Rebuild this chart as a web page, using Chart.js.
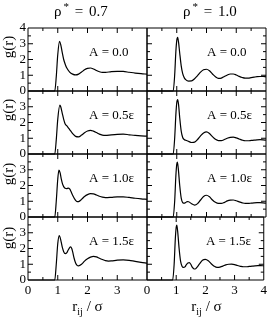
<!DOCTYPE html>
<html><head><meta charset="utf-8">
<script src="https://cdn.jsdelivr.net/npm/chart.js@4"></script>
<style>
html,body{margin:0;padding:0;background:#fff;}
#wrap{position:relative;width:270px;height:317px;overflow:hidden;font-family:"Liberation Serif","DejaVu Serif",serif;color:#000;}
#wrap canvas{position:absolute;left:0;top:0;}
.t{position:absolute;white-space:nowrap;line-height:1;font-size:15px;}
.sup{position:relative;top:-6px;font-size:11px;margin-left:2px;}
.sub{position:relative;top:4px;font-size:10px;}
.yl{position:absolute;left:7.5px;white-space:nowrap;line-height:1;font-size:15px;transform:translate(-50%,-50%) rotate(-90deg);}
</style></head><body><div id="wrap"></div>
<script>
// ---- data ----
const densities = ['0.7', '1.0'];
const aLabels = ['A = 0.0', 'A = 0.5\u03b5', 'A = 1.0\u03b5', 'A = 1.5\u03b5'];
const xTickValues = [0, 1, 2, 3, 4];
const yTickValues = [0, 1, 2, 3, 4];

// rho* = 0.7
const rL1 = [0,0.9,0.95,1.0,1.06,1.1,1.15,1.2,1.25,1.3,1.4,1.5,1.6,1.7,1.8,1.9,2.0,2.1,2.2,2.3,2.4,2.5,2.6,2.8,3.0,3.2,3.4,3.6,3.8,4.0];
const gL1 = [0,0,0.9,2.3,3.15,2.95,2.45,2.0,1.7,1.47,1.2,1.07,1.02,1.07,1.2,1.35,1.44,1.46,1.4,1.3,1.22,1.18,1.18,1.23,1.25,1.24,1.19,1.14,1.1,1.07];
const rL2 = [0,0.9,0.95,1.0,1.07,1.1,1.15,1.2,1.25,1.3,1.35,1.4,1.5,1.6,1.7,1.8,1.9,2.0,2.1,2.2,2.3,2.4,2.5,2.6,2.8,3.0,3.2,3.4,3.6,3.8,4.0];
const gL2 = [0,0,0.9,2.2,3.1,3.0,2.6,2.2,1.9,1.8,1.68,1.55,1.3,1.12,1.09,1.2,1.35,1.46,1.5,1.45,1.36,1.26,1.2,1.18,1.22,1.25,1.26,1.22,1.18,1.15,1.13];
const rL3 = [0,0.9,0.95,1.0,1.04,1.08,1.12,1.16,1.2,1.25,1.3,1.35,1.4,1.45,1.5,1.6,1.65,1.7,1.8,1.9,2.0,2.1,2.2,2.3,2.4,2.5,2.6,2.8,3.0,3.2,3.4,3.6,3.8,4.0];
const gL3 = [0,0,1.0,2.4,2.98,2.8,2.4,2.1,1.93,1.82,1.8,1.83,1.78,1.6,1.38,1.05,0.97,0.98,1.12,1.3,1.42,1.48,1.47,1.4,1.32,1.26,1.23,1.25,1.28,1.28,1.24,1.19,1.15,1.12];
const rL4 = [0,0.9,0.95,1.0,1.05,1.1,1.15,1.2,1.25,1.3,1.35,1.4,1.43,1.47,1.5,1.55,1.6,1.65,1.7,1.8,1.9,2.0,2.1,2.2,2.3,2.4,2.5,2.6,2.7,2.8,3.0,3.2,3.4,3.6,3.8,4.0];
const gL4 = [0,0,1.0,2.3,2.82,2.55,2.1,1.8,1.68,1.72,1.9,2.06,2.1,2.0,1.8,1.38,1.08,0.93,0.9,1.0,1.2,1.35,1.45,1.5,1.47,1.38,1.3,1.23,1.2,1.21,1.26,1.28,1.25,1.18,1.12,1.07];

// rho* = 1.0
const rR1 = [0,0.88,0.93,0.97,1.0,1.03,1.06,1.1,1.15,1.2,1.25,1.3,1.4,1.5,1.6,1.7,1.8,1.9,2.0,2.1,2.2,2.3,2.4,2.5,2.6,2.7,2.8,2.9,3.0,3.1,3.2,3.3,3.4,3.5,3.6,3.7,3.8,3.9,4.0];
const gR1 = [0,0,1.0,2.5,3.2,3.4,3.1,2.4,1.6,1.1,0.85,0.72,0.63,0.64,0.78,0.98,1.2,1.35,1.38,1.28,1.08,0.9,0.8,0.82,0.92,1.02,1.08,1.08,1.02,0.93,0.86,0.82,0.82,0.85,0.88,0.91,0.92,0.92,0.9];
const rR2 = [0,0.88,0.93,0.97,1.0,1.03,1.06,1.1,1.15,1.2,1.25,1.3,1.4,1.5,1.6,1.7,1.8,1.9,2.0,2.1,2.2,2.3,2.4,2.5,2.6,2.7,2.8,2.9,3.0,3.1,3.2,3.3,3.4,3.5,3.6,3.7,3.8,3.9,4.0];
const gR2 = [0,0,1.0,2.5,3.25,3.45,3.15,2.3,1.45,1.05,0.92,0.87,0.8,0.73,0.75,0.92,1.15,1.33,1.4,1.3,1.1,0.93,0.85,0.85,0.92,1.0,1.06,1.07,1.02,0.95,0.88,0.84,0.84,0.86,0.88,0.9,0.91,0.9,0.88];
const rR3 = [0,0.88,0.93,0.97,1.0,1.02,1.05,1.1,1.15,1.2,1.25,1.3,1.35,1.4,1.5,1.6,1.7,1.8,1.9,2.0,2.1,2.2,2.3,2.4,2.5,2.6,2.7,2.8,2.9,3.0,3.1,3.2,3.3,3.4,3.5,3.6,3.7,3.8,3.9,4.0];
const gR3 = [0,0,1.0,2.6,3.35,3.48,3.1,2.0,1.2,0.92,0.88,0.92,0.98,0.97,0.84,0.76,0.85,1.08,1.3,1.38,1.28,1.08,0.93,0.86,0.86,0.93,1.02,1.07,1.08,1.03,0.96,0.9,0.86,0.86,0.88,0.9,0.91,0.91,0.9,0.88];
const rR4 = [0,0.88,0.93,0.97,1.0,1.02,1.05,1.1,1.15,1.2,1.25,1.3,1.35,1.4,1.45,1.5,1.55,1.6,1.65,1.7,1.8,1.9,2.0,2.1,2.2,2.3,2.4,2.5,2.6,2.7,2.8,2.9,3.0,3.1,3.2,3.3,3.4,3.5,3.6,3.7,3.8,3.9,4.0];
const gR4 = [0,0,1.0,2.6,3.35,3.48,3.1,2.0,1.2,0.88,0.8,0.83,0.98,1.08,1.1,1.0,0.82,0.72,0.7,0.78,1.02,1.25,1.31,1.22,1.03,0.88,0.8,0.82,0.88,0.96,1.0,1.01,0.98,0.92,0.87,0.84,0.84,0.86,0.88,0.9,0.91,0.91,0.9];

const series = [
  [[rL1,gL1],[rL2,gL2],[rL3,gL3],[rL4,gL4]],
  [[rR1,gR1],[rR2,gR2],[rR3,gR3],[rR4,gR4]]
];

// ---- layout ----
const W = 270, H = 317;
const colEdges = [28, 147, 266];
const rowEdges = [28, 91, 154, 217, 280];
const YAXIS_W = 28, XAXIS_H = 22;
const FONT = '"Liberation Serif", "DejaVu Serif", serif';
const wrap = document.getElementById('wrap');

const deco = {
  id: 'panelDeco',
  afterDraw(chart, args, o) {
    const {ctx, chartArea: a, scales: {x, y}} = chart;
    ctx.save();
    ctx.strokeStyle = '#000';
    ctx.lineWidth = 1;
    ctx.beginPath();
    ctx.rect(a.left, a.top, a.right - a.left, a.bottom - a.top);
    x.ticks.forEach(t => {
      if (t.value <= 0 || t.value >= 4) return;
      const p = x.getPixelForValue(t.value);
      const len = Number.isInteger(t.value) ? 5 : 3;
      ctx.moveTo(p, a.bottom); ctx.lineTo(p, a.bottom - len);
      ctx.moveTo(p, a.top); ctx.lineTo(p, a.top + len);
    });
    y.ticks.forEach(t => {
      if (t.value <= 0 || t.value >= 4) return;
      const p = y.getPixelForValue(t.value);
      const len = Number.isInteger(t.value) ? 5 : 3;
      ctx.moveTo(a.left, p); ctx.lineTo(a.left + len, p);
      if (o.col === 1) { ctx.moveTo(a.right, p); ctx.lineTo(a.right - len, p); }
    });
    ctx.stroke();
    ctx.fillStyle = '#000';
    ctx.font = '13px ' + FONT;
    ctx.textBaseline = 'alphabetic';
    ctx.textAlign = 'left';
    ctx.fillText(o.label, x.getPixelForValue(o.lx), y.getPixelForValue(o.ly));
    ctx.restore();
  }
};

function makePanel(col, row) {
  const [r, g] = series[col][row];
  const c = document.createElement('canvas');
  c.width = W; c.height = H;
  c.style.width = W + 'px'; c.style.height = H + 'px';
  wrap.appendChild(c);
  const L = colEdges[col], R = colEdges[col + 1], T = rowEdges[row], B = rowEdges[row + 1];
  new Chart(c, {
    type: 'line',
    data: {
      datasets: [{
        data: r.map((v, i) => ({x: v, y: g[i]})),
        borderColor: '#000', borderWidth: 1.2, pointRadius: 0,
        cubicInterpolationMode: 'monotone', fill: false, clip: false
      }]
    },
    options: {
      responsive: false, animation: false, events: [],
      devicePixelRatio: 1,
      layout: {padding: {left: L - YAXIS_W, right: W - R, top: T, bottom: H - B - XAXIS_H}},
      plugins: {
        legend: {display: false}, tooltip: {enabled: false}, title: {display: false},
        panelDeco: {col, label: aLabels[row], lx: col === 0 ? 2.05 : 2.02, ly: 2.22}
      },
      scales: {
        x: {
          type: 'linear', min: 0, max: 4, position: 'bottom',
          grid: {display: false, drawTicks: false}, border: {display: false},
          ticks: {
            stepSize: 0.5, autoSkip: false, maxRotation: 0, minRotation: 0, padding: 3,
            color: '#000', font: {family: FONT, size: 13},
            callback: v => (row === 3 && xTickValues.includes(v) && !(col === 0 && v === 4)) ? String(v) : ''
          },
          afterFit: s => { s.height = XAXIS_H; }
        },
        y: {
          type: 'linear', min: 0, max: 4, position: 'left',
          grid: {display: false, drawTicks: false}, border: {display: false},
          ticks: {
            stepSize: 0.5, autoSkip: false, padding: 2,
            color: '#000', font: {family: FONT, size: 13},
            callback: v => (col === 0 && yTickValues.includes(v) && !(row > 0 && v === 4)) ? String(v) : ''
          },
          afterFit: s => { s.width = YAXIS_W; }
        }
      }
    },
    plugins: [deco]
  });
}

for (let col = 0; col < 2; col++) for (let row = 0; row < 4; row++) makePanel(col, row);

// ---- text labels ----
function addDiv(cls, html, style) {
  const d = document.createElement('div');
  d.className = cls; d.innerHTML = html;
  Object.assign(d.style, style);
  wrap.appendChild(d);
  return d;
}
const titleLeft = [54, 183];
densities.forEach((d, i) => {
  addDiv('t', '\u03c1<span class="sup">*</span> = ' + d, {left: titleLeft[i] + 'px', top: '4px', wordSpacing: '2px'});
});
const yLabelCenters = [47, 110, 174, 238];
yLabelCenters.forEach(cy => addDiv('yl', 'g(r)', {top: cy + 'px'}));
[87.5, 206.5].forEach(cx => {
  addDiv('t', 'r<span class="sub">ij</span> / \u03c3', {left: cx + 'px', top: '299px', transform: 'translateX(-50%)'});
});
</script>
</body></html>
